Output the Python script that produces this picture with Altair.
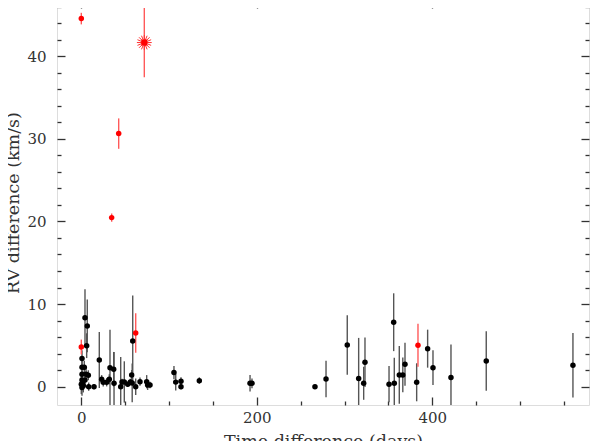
import altair as alt
import pandas as pd

# ---- data ----
black_days = [0, 0.8, 0.8, 3.4, 0.8, 5.4, 8.0, 0.8, 4.2, 2.3, 0.8, 1.5, 4.2, 6.8, 6.1,
              8.4, 14.5, 20.5, 23.2, 25.0, 28.9, 31.9, 32.7, 36.9, 37.3, 44.9, 46.4, 49.0,
              52.9, 55.9, 57.4, 58.0, 58.6, 62.0, 66.9, 74.5, 75.6, 78.3, 105.6, 107.6,
              113.6, 113.6, 134.5, 192.3, 194.5, 266.3, 278.9, 303.1, 316.1, 321.8, 323.3,
              350.7, 356.0, 356.7, 362.4, 366.4, 368.9, 382.2, 394.7, 400.8, 421.3, 461.5, 560.3]
black_rv = [0.3, 3.4, 2.35, 2.35, 1.5, 1.5, 1.38, 0.8, 0.8, 0.1, -0.1, 0.5, 8.35, 7.35, 4.96,
            0.0, 0.0, 3.23, 0.9, 0.53, 0.53, 0.9, 2.3, 2.1, 0.4, 0.0, 0.57, 0.57,
            0.3, 0.57, 1.42, 0.45, 5.53, 0.0, 0.6, 0.6, 0.2, 0.2, 1.7, 0.55,
            0.65, 0.0, 0.73, 0.4, 0.4, 0.0, 0.93, 5.05, 1.0, 0.41, 2.95,
            0.3, 7.8, 0.4, 1.42, 1.42, 2.7, 0.53, 4.6, 2.3, 1.1, 3.1, 2.6]
black_err = [1.2, 1.0, 0.8, 0.8, 0.6, 0.8, 0.6, 0.6, 0.7, 0.8, 1.0, 0.5, 3.45, 3.2, 1.5,
             0.5, 0.3, 3.4, 0.5, 0.5, 0.5, 0.6, 4.6, 2.1, 3.8, 3.6, 0.4, 2.5,
             0.3, 0.4, 0.6, 2.35, 5.5, 1.0, 0.5, 0.8, 0.6, 0.4, 0.8, 1.0,
             0.5, 0.3, 0.4, 1.0, 0.6, 0.2, 2.2, 3.6, 4.9, 2.0, 3.0,
             2.2, 3.5, 3.1, 3.5, 2.1, 2.6, 2.3, 2.3, 2.1, 4.0, 3.6, 3.9]

red_days = [0, 42.6, 34.6, 0, 62.0, 383.7]
red_rv = [44.55, 30.63, 20.46, 4.8, 6.5, 5.0]
red_err = [0.7, 1.84, 0.5, 0.9, 2.4, 2.6]

star_days = [71.8]
star_rv = [41.65]
star_err = [4.2]

x_major = [0, 200, 400]
x_minor = [50, 100, 150, 250, 300, 350, 450, 500, 550]
y_major = [0, 10, 20, 30, 40]
y_minor = [2, 4, 6, 8, 12, 14, 16, 18, 22, 24, 26, 28, 32, 34, 36, 38, 42, 44, 46]


def frame(d, v, e):
    df = pd.DataFrame({"d": d, "v": v, "e": e})
    df["lo"] = df["v"] - df["e"]
    df["hi"] = df["v"] + df["e"]
    return df


black = frame(black_days, black_rv, black_err)
red = frame(red_days, red_rv, red_err)
star = frame(star_days, star_rv, star_err)

xs = alt.Scale(domain=[-27.7, 578.6], nice=False, zero=False)
ys = alt.Scale(domain=[-2.22, 46.8], nice=False, zero=False)

FONT = "DejaVu Serif"
TXT = "#333333"
TICK = "#333333"
common = dict(domain=False, grid=False, tickColor=TICK, tickWidth=1.3,
              labelFont=FONT, labelFontSize=15, labelColor=TXT,
              titleFont=FONT, titleFontSize=17.5, titleColor=TXT, titleFontWeight="normal")


def ax(orient, values, size, labels=False, title=None, **kw):
    return alt.Axis(orient=orient, values=values, tickSize=size, offset=-size,
                    labels=labels, title=title, **common, **kw)


ax_bottom_major = ax("bottom", x_major, 8, labels=True, title="Time difference (days)",
                     labelPadding=5, titlePadding=7)
ax_bottom_minor = ax("bottom", x_minor, 4)
ax_top_major = ax("top", x_major, 8)
ax_top_minor = ax("top", x_minor, 4)
ax_left_major = ax("left", y_major, 8, labels=True, title="RV difference (km/s)",
                   labelPadding=11, titlePadding=4)
ax_left_minor = ax("left", y_minor, 4)
ax_right_major = ax("right", y_major, 8)
ax_right_minor = ax("right", y_minor, 4)

black_rules = alt.Chart(black).mark_rule(clip=True, color="#555555", strokeWidth=1.4).encode(
    x=alt.X("d:Q", scale=xs, axis=ax_bottom_major),
    y=alt.Y("lo:Q", scale=ys, axis=ax_left_major),
    y2="hi:Q",
)
red_rules = alt.Chart(red).mark_rule(clip=True, color="#ff5a5a", strokeWidth=1.4).encode(
    x=alt.X("d:Q", scale=xs, axis=ax_bottom_minor),
    y=alt.Y("lo:Q", scale=ys, axis=ax_left_minor),
    y2="hi:Q",
)
black_pts = alt.Chart(black).mark_circle(size=30, color="#000000", opacity=1).encode(
    x=alt.X("d:Q", scale=xs, axis=ax_top_major),
    y=alt.Y("v:Q", scale=ys, axis=ax_right_major),
)
red_pts = alt.Chart(red).mark_circle(size=30, color="#ff0000", opacity=1).encode(
    x=alt.X("d:Q", scale=xs, axis=ax_top_minor),
    y=alt.Y("v:Q", scale=ys, axis=ax_right_minor),
)
star_rule = alt.Chart(star).mark_rule(clip=True, color="#ff5a5a", strokeWidth=1.4).encode(
    x=alt.X("d:Q", scale=xs, axis=None),
    y=alt.Y("lo:Q", scale=ys, axis=None),
    y2="hi:Q",
)
ASTER = ("M-1,0L1,0M0,-1L0,1M-0.71,-0.71L0.71,0.71M-0.71,0.71L0.71,-0.71"
         "M-0.92,-0.38L0.92,0.38M-0.92,0.38L0.92,-0.38M-0.38,-0.92L0.38,0.92M-0.38,0.92L0.38,-0.92")
star_mark = alt.Chart(star).mark_point(shape=ASTER, size=220, filled=False,
                                       color="#ff3030", strokeWidth=1, opacity=1).encode(
    x=alt.X("d:Q", scale=xs, axis=None),
    y=alt.Y("v:Q", scale=ys, axis=None),
)
star_dot = alt.Chart(star).mark_square(size=36, color="#ff0000", opacity=1).encode(
    x=alt.X("d:Q", scale=xs, axis=None),
    y=alt.Y("v:Q", scale=ys, axis=None),
)

chart = alt.layer(
    black_rules, red_rules, black_pts, red_pts, star_rule, star_mark, star_dot
).resolve_axis(x="independent", y="independent").properties(
    width=532,
    height=405,
    padding={"left": 49, "top": -8, "right": 1, "bottom": 50},
    autosize=alt.AutoSizeParams(type="none"),
).configure_view(stroke="#444444", strokeWidth=1.3).configure(background="white")

chart.save("out.html", embed_options={"renderer": "svg", "actions": False})
